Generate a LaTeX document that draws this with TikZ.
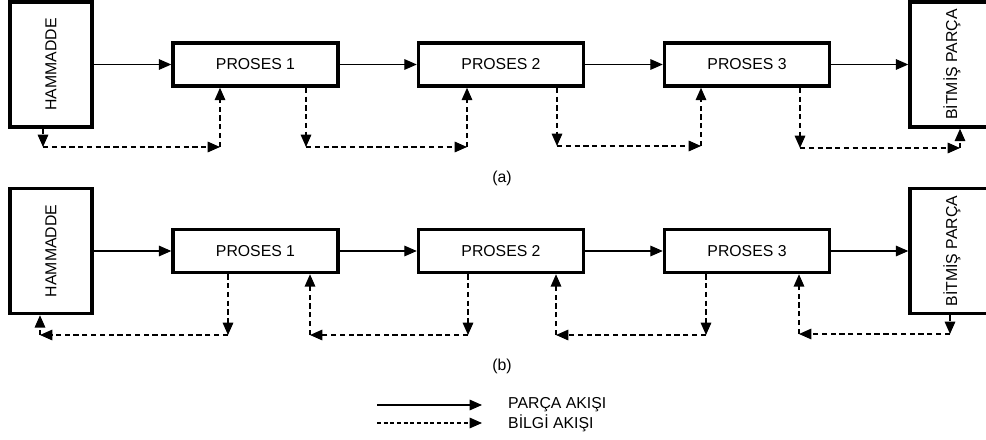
\documentclass[tikz,border=0pt]{standalone}
\usepackage{fontspec}
\setmainfont{Liberation Sans}
\usetikzlibrary{arrows.meta}

\begin{document}
\begin{tikzpicture}[x=0.02cm,y=-0.02cm,
    font=\fontsize{9}{11}\selectfont,
    box/.style={draw,line width=2pt,inner sep=0pt,minimum width=3.3cm,minimum height=0.86cm},
    endbox/.style={draw,line width=2pt,inner sep=0pt,minimum width=1.64cm,minimum height=2.5cm},
    flow/.style={line width=0.6pt,-{Triangle[length=7pt,width=6pt]}},
    info/.style={flow,line width=0.7pt,dash pattern=on 3pt off 2pt}]
      \clip (0,0) rectangle (986,439);
      % (a)
      \draw
        (51,64.5) node[endbox] (ha){\rotatebox{90}{HAMMADDE}}
        (255.5,64.5) node[box] (p1a){PROSES 1}
        (501,64.5) node[box] (p2a){PROSES 2}
        (747,64.5) node[box] (p3a){PROSES 3}
        (952,64.5) node[endbox,minimum width=1.68cm] (ba){\rotatebox{90}{BİTMİŞ PARÇA}};
      \node at (502,178) {(a)};
      % (b)
      \draw
        (51,251) node[endbox] (hb){\rotatebox{90}{HAMMADDE}}
        (255.5,251) node[box] (p1b){PROSES 1}
        (501,251) node[box] (p2b){PROSES 2}
        (747,251) node[box] (p3b){PROSES 3}
        (952,251) node[endbox,minimum width=1.68cm] (bb){\rotatebox{90}{BİTMİŞ PARÇA}};
      \node at (502,366) {(b)};
      % part flow
      \begin{scope}[flow]
        \draw (ha) to (p1a);
        \draw (p1a) to (p2a);
        \draw (p2a) to (p3a);
        \draw (p3a) to (ba);
        \draw (hb) to (p1b);
        \draw (p1b) to (p2b);
        \draw (p2b) to (p3b);
        \draw (p3b) to (bb);
      \end{scope}
      % information flow, forward
      \coordinate (a1) at (43,147);
      \coordinate (a2) at (220,147);
      \coordinate (a3) at (306,147);
      \coordinate (a4) at (467,147);
      \coordinate (a5) at (557,146);
      \coordinate (a6) at (701,146);
      \coordinate (a7) at (800,148);
      \coordinate (a8) at (960,148);
      \begin{scope}[info]
        \draw (ha.south -| a1) -- (a1);
        \draw (a1) -- (a2);
        \draw (a2) -- (p1a.south -| a2);
        \draw (p1a.south -| a3) -- (a3);
        \draw (a3) -- (a4);
        \draw (a4) -- (p2a.south -| a4);
        \draw (p2a.south -| a5) -- (a5);
        \draw (a5) -- (a6);
        \draw (a6) -- (p3a.south -| a6);
        \draw (p3a.south -| a7) -- (a7);
        \draw (a7) -- (a8);
        \draw (a8) -- (ba.south -| a8);
      \end{scope}
      % information flow, backward
      \coordinate (b1) at (228,335);
      \coordinate (b2) at (40,335);
      \coordinate (b3) at (468,335);
      \coordinate (b4) at (310,335);
      \coordinate (b5) at (706,335);
      \coordinate (b6) at (556,335);
      \coordinate (b7) at (950,334);
      \coordinate (b8) at (799,334);
      \begin{scope}[info]
        \draw (p1b.south -| b1) -- (b1);
        \draw (b1) -- (b2);
        \draw (b2) -- (hb.south -| b2);
        \draw (p2b.south -| b3) -- (b3);
        \draw (b3) -- (b4);
        \draw (b4) -- (p1b.south -| b4);
        \draw (p3b.south -| b5) -- (b5);
        \draw (b5) -- (b6);
        \draw (b6) -- (p2b.south -| b6);
        \draw (bb.south -| b7) -- (b7);
        \draw (b7) -- (b8);
        \draw (b8) -- (p3b.south -| b8);
      \end{scope}
      % legend
      \coordinate (l1) at (377,405);
      \coordinate (l2) at (482,405);
      \coordinate (l3) at (377,423);
      \coordinate (l4) at (482,423);
      \draw[flow] (l1) -- (l2);
      \draw[info,line width=0.6pt,dash pattern=on 2.2pt off 1.6pt] (l3) -- (l4);
      \node[anchor=west] (lp) at (502,405) {PARÇA AKIŞI};
      \node[anchor=west] (lb) at (502,423) {BİLGİ AKIŞI};
    \end{tikzpicture}
\end{document}
